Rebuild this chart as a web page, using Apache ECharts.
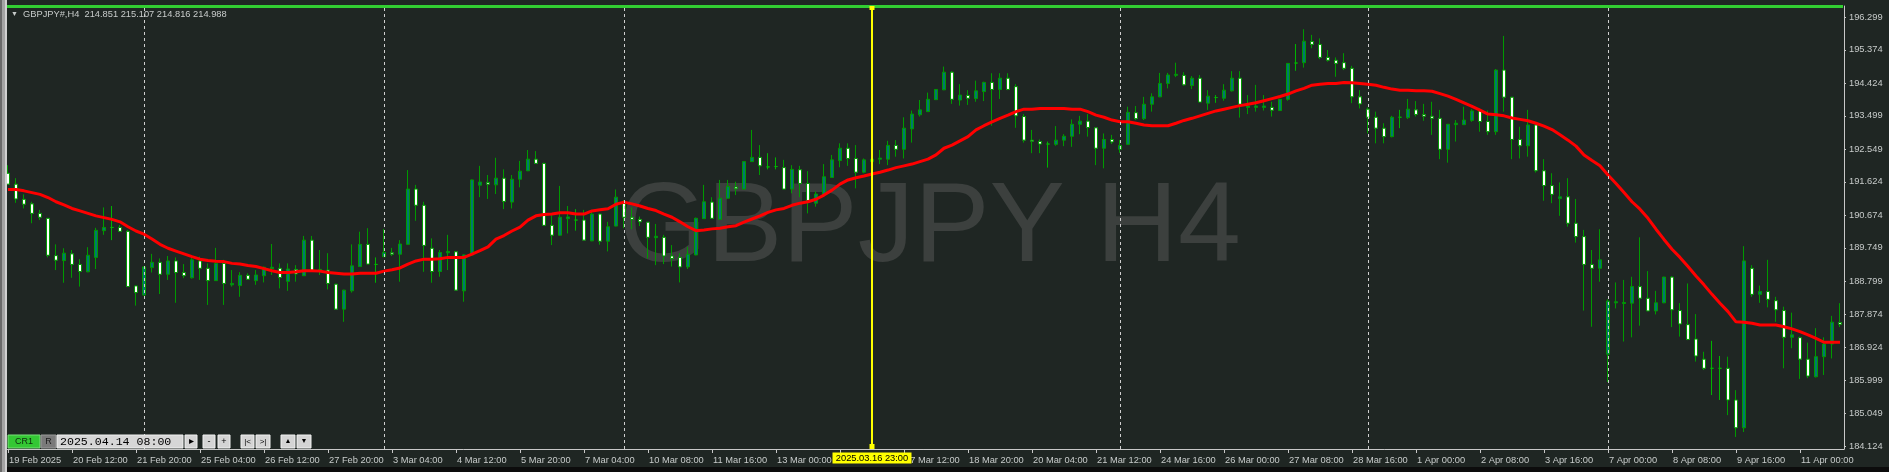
<!DOCTYPE html>
<html><head><meta charset="utf-8">
<script src="https://cdn.jsdelivr.net/npm/echarts@6/dist/echarts.min.js"></script>
<style>html,body{margin:0;padding:0;background:#1f2623;}#c{width:1889px;height:472px;}</style>
</head><body><div id="c"></div>
<script>
// ---------------- data ----------------
const xTickLabels = ['19 Feb 2025','20 Feb 12:00','21 Feb 20:00','25 Feb 04:00','26 Feb 12:00','27 Feb 20:00','3 Mar 04:00','4 Mar 12:00','5 Mar 20:00','7 Mar 04:00','10 Mar 08:00','11 Mar 16:00','13 Mar 00:00','14 Mar 08:00','17 Mar 12:00','18 Mar 20:00','20 Mar 04:00','21 Mar 12:00','24 Mar 16:00','26 Mar 00:00','27 Mar 08:00','28 Mar 16:00','1 Apr 00:00','2 Apr 08:00','3 Apr 16:00','7 Apr 00:00','8 Apr 08:00','9 Apr 16:00','11 Apr 00:00'];
const xTickEvery = 8;
const yTickLabels = ['196.299','195.374','194.424','193.499','192.549','191.624','190.674','189.749','188.799','187.874','186.924','185.999','185.049','184.124'];
const yMin = 184.038, yMax = 196.620;

const opens = [
191.87,191.56,191.13,191.00,190.73,190.59,189.53,189.39,189.58,189.28,
189.07,189.48,190.24,190.33,190.33,190.22,188.67,188.41,189.19,189.34,
189.00,189.38,189.05,188.90,189.38,189.17,188.82,189.31,188.70,188.68,
188.97,188.82,188.96,189.16,189.17,188.80,189.14,188.96,189.97,189.09,
189.12,188.72,188.01,188.53,189.22,189.85,189.28,189.50,189.61,189.57,
189.85,191.42,190.96,189.74,189.08,189.61,189.64,188.53,189.55,191.53,
191.61,191.54,191.73,191.05,191.70,191.94,192.27,192.15,190.39,190.11,
190.58,190.54,190.54,189.95,190.71,189.94,190.37,191.02,190.62,190.56,
190.48,190.04,190.05,189.52,189.48,189.21,189.55,190.58,191.05,190.56,
191.16,191.48,191.42,192.20,192.32,192.05,192.06,192.03,191.42,191.97,
191.58,191.02,191.27,191.75,192.23,192.58,192.29,191.90,192.20,192.27,
192.27,192.66,192.55,193.13,193.53,193.62,193.96,194.24,194.74,193.95,
194.08,193.99,194.19,194.45,194.25,194.57,194.33,193.48,192.81,192.77,
192.70,192.69,192.81,192.92,193.26,193.35,193.16,192.58,192.83,192.55,
192.69,193.59,193.42,193.83,194.04,194.42,194.65,194.65,194.36,194.57,
193.86,194.02,194.00,194.21,194.57,193.74,193.74,193.74,193.74,193.65,
193.97,195.00,195.01,195.61,195.53,195.16,195.08,195.01,194.85,194.04,
193.69,193.46,193.15,192.91,193.46,193.45,193.67,193.54,193.49,193.43,
192.55,193.25,193.25,193.37,193.64,193.34,193.05,194.80,194.03,192.83,
192.65,193.24,191.94,191.52,191.15,191.20,190.45,190.07,189.28,189.17,
186.73,188.19,188.17,188.18,188.65,188.32,187.96,188.19,188.92,187.97,
187.57,187.16,186.59,186.33,186.33,186.33,185.43,184.64,189.17,188.43,
188.51,188.25,187.97,187.21,187.20,186.59,186.09,186.66,187.02,187.63];
const closes = [
191.56,191.14,190.99,190.73,190.62,189.54,189.40,189.60,189.28,189.08,
189.54,190.25,190.33,190.33,190.22,188.65,188.48,189.21,189.34,189.00,
189.38,189.05,188.96,189.41,189.17,188.82,189.31,188.74,188.74,188.97,
188.86,188.98,189.20,189.20,188.91,189.15,189.01,189.97,189.10,189.14,
188.74,188.01,188.55,189.24,189.85,189.29,189.28,189.62,189.57,189.86,
191.42,190.96,189.82,189.08,189.62,189.65,188.55,189.55,191.68,191.62,
191.56,191.73,191.07,191.70,191.93,192.27,192.15,190.39,190.11,190.62,
190.63,190.54,189.97,190.71,189.94,190.35,191.19,190.62,190.56,190.49,
190.05,190.08,189.52,189.45,189.21,189.57,190.59,191.06,190.59,191.16,
191.49,191.43,192.20,192.32,192.08,192.05,192.06,191.42,191.98,191.58,
191.09,191.28,191.77,192.25,192.58,192.29,191.90,192.25,192.27,192.30,
192.66,192.55,193.15,193.55,193.67,193.97,194.25,194.74,193.97,194.09,
194.00,194.21,194.45,194.25,194.57,194.25,193.50,192.81,192.78,192.70,
192.70,192.81,192.92,193.26,193.35,193.17,192.58,192.83,192.76,192.66,
193.60,193.42,193.83,194.04,194.42,194.66,194.68,194.38,194.57,193.89,
194.06,194.02,194.23,194.57,193.83,193.78,193.78,193.78,193.66,193.97,
194.99,195.00,195.62,195.53,195.16,195.08,194.99,194.85,194.04,193.84,
193.46,193.15,192.91,193.46,193.46,193.69,193.54,193.49,193.43,192.55,
193.26,193.29,193.38,193.64,193.34,193.05,194.80,194.03,192.83,192.65,
193.24,191.94,191.52,191.27,191.20,190.45,190.07,189.28,189.17,189.41,
188.24,188.22,188.20,188.65,188.32,187.96,188.19,188.92,187.99,187.59,
187.15,186.68,186.33,186.33,186.33,185.43,184.64,189.38,188.43,188.51,
188.29,187.99,187.21,187.28,186.59,186.11,186.66,187.02,187.64,187.58];
const lows = [
191.54,191.03,190.87,190.45,190.54,189.48,189.12,188.76,188.90,188.65,
189.06,189.15,190.12,189.97,190.20,188.64,188.11,188.40,189.05,188.44,
188.84,188.19,188.89,188.88,188.84,188.13,188.81,188.13,188.65,188.36,
188.84,188.70,188.77,188.98,188.60,188.53,188.79,188.95,189.09,188.98,
188.57,188.00,187.65,188.48,189.21,189.28,188.76,189.49,189.52,188.79,
189.84,190.52,189.07,188.76,188.93,189.12,188.54,188.22,189.54,191.19,
191.14,191.28,190.85,190.87,191.47,191.93,192.14,190.38,189.83,190.10,
190.16,190.24,189.96,189.94,189.84,189.65,190.36,190.31,190.28,190.37,
189.45,189.26,189.29,189.22,188.77,189.15,189.54,190.57,190.58,190.55,
191.15,191.25,191.41,192.19,191.82,191.98,191.98,191.41,191.30,191.19,
190.73,190.92,191.25,191.74,192.04,192.08,191.44,191.87,192.13,192.13,
192.10,192.34,192.29,192.74,193.48,193.61,193.95,194.23,193.84,193.79,
193.81,193.90,193.92,193.22,193.98,194.23,193.16,192.74,192.44,192.44,
192.03,192.65,192.64,192.62,192.98,192.91,192.10,192.01,192.70,192.45,
192.68,193.38,193.38,193.62,194.03,194.28,194.60,194.36,194.26,193.88,
193.67,193.87,193.93,194.19,193.45,193.55,193.62,193.65,193.48,193.64,
193.93,194.78,194.87,195.42,195.11,195.04,194.61,194.80,193.86,193.71,
193.00,192.72,192.72,192.89,193.15,193.41,193.48,193.36,192.96,192.27,
192.17,192.77,193.24,193.33,193.05,192.96,192.96,193.62,192.27,192.29,
192.34,191.89,191.09,191.02,190.66,190.35,189.90,187.97,187.51,188.79,
185.94,188.03,187.09,187.21,187.54,187.95,187.86,188.18,187.50,187.23,
187.13,186.52,186.28,185.57,185.43,185.00,184.38,184.52,188.36,188.19,
188.06,187.65,186.33,186.90,186.03,186.05,186.07,186.14,186.61,187.50];
const highs = [
192.10,191.73,191.27,191.06,190.83,190.60,189.85,189.74,189.69,189.43,
189.77,190.32,190.90,190.94,190.40,190.26,188.68,189.22,189.58,189.45,
189.52,189.48,189.29,189.52,189.50,189.31,189.75,189.41,189.12,189.06,
189.03,189.12,189.22,189.86,189.31,189.31,189.26,190.09,190.09,189.69,
189.60,188.73,188.56,189.85,190.21,190.31,189.48,190.29,189.75,189.97,
191.96,191.54,191.06,190.02,189.69,190.12,189.66,189.56,191.69,192.08,
191.82,192.31,191.98,191.82,192.22,192.53,192.50,192.17,190.68,191.51,
190.94,190.85,190.83,190.81,190.73,190.49,191.41,191.11,190.90,190.64,
190.49,190.43,190.12,189.83,189.60,189.78,190.61,191.54,191.19,191.68,
191.68,191.63,192.21,193.10,192.67,192.44,192.32,192.25,192.10,192.08,
191.93,191.35,192.13,192.39,192.72,192.72,192.67,192.29,192.32,192.53,
192.79,192.81,193.46,193.65,193.95,194.16,194.26,194.90,194.77,194.40,
194.23,194.50,194.47,194.71,194.71,194.71,194.40,193.55,193.10,192.83,
192.77,193.21,192.98,193.40,193.50,193.55,193.18,193.00,192.96,192.81,
193.76,193.78,194.04,194.14,194.72,194.72,195.01,194.74,194.63,194.66,
194.23,194.09,194.40,194.77,194.77,194.09,194.38,194.09,193.90,193.98,
195.00,195.54,195.96,195.80,195.70,195.37,195.16,195.28,194.92,194.23,
193.74,193.62,193.29,193.50,193.67,193.98,193.92,193.84,193.90,193.67,
193.27,193.38,193.76,193.69,193.71,193.65,194.83,195.77,194.04,193.19,
193.67,193.25,192.27,191.87,191.61,191.73,191.14,190.26,189.69,190.28,
188.29,188.77,188.84,188.93,190.05,189.09,188.53,188.93,188.95,188.18,
188.74,187.87,186.80,187.11,186.68,186.66,185.71,189.80,189.26,188.68,
189.41,188.36,188.08,187.91,187.23,187.06,187.47,187.21,187.82,188.18];
const maValues = [
191.41,191.41,191.37,191.32,191.27,191.18,191.06,190.97,190.87,190.80,
190.73,190.66,190.61,190.56,190.49,190.35,190.23,190.14,190.00,189.85,
189.74,189.66,189.58,189.50,189.43,189.39,189.37,189.36,189.31,189.29,
189.25,189.22,189.16,189.10,189.05,189.05,189.07,189.10,189.10,189.09,
189.05,189.03,189.01,189.01,189.03,189.03,189.03,189.09,189.13,189.18,
189.29,189.38,189.43,189.43,189.44,189.48,189.48,189.48,189.57,189.67,
189.78,190.00,190.10,190.23,190.34,190.54,190.66,190.70,190.71,190.75,
190.75,190.71,190.71,190.80,190.83,190.86,190.99,191.05,191.00,190.94,
190.87,190.81,190.71,190.62,190.49,190.35,190.24,190.26,190.29,190.31,
190.35,190.38,190.48,190.57,190.66,190.76,190.83,190.87,190.96,191.02,
191.06,191.13,191.25,191.39,191.56,191.68,191.74,191.79,191.85,191.90,
191.96,192.03,192.08,192.13,192.20,192.27,192.39,192.58,192.67,192.79,
192.91,193.10,193.22,193.33,193.43,193.52,193.62,193.69,193.69,193.71,
193.71,193.71,193.71,193.69,193.69,193.62,193.52,193.46,193.38,193.33,
193.33,193.29,193.24,193.22,193.22,193.22,193.29,193.37,193.43,193.50,
193.57,193.64,193.69,193.74,193.79,193.83,193.87,193.93,193.99,194.05,
194.12,194.21,194.28,194.37,194.40,194.42,194.42,194.45,194.44,194.42,
194.40,194.37,194.31,194.26,194.23,194.23,194.21,194.21,194.20,194.13,
194.06,193.97,193.87,193.77,193.66,193.55,193.53,193.50,193.44,193.40,
193.36,193.29,193.21,193.11,192.96,192.81,192.64,192.39,192.23,192.08,
191.82,191.58,191.32,191.06,190.85,190.59,190.28,189.99,189.71,189.48,
189.22,188.95,188.70,188.43,188.18,187.94,187.65,187.64,187.61,187.56,
187.56,187.56,187.51,187.45,187.37,187.28,187.18,187.07,187.07,187.07];
const separatorBars = [17, 47, 77, 108, 139, 170, 200];
const crosshairBar = 108;
const crosshairText = '2025.03.16 23:00';
const titleText = 'GBPJPY#,H4  214.851 215.107 214.816 214.988';
const watermarkText = 'GBPJPY H4';
const scrollDateText = '2025.04.14 08:00';

// ---------------- build ----------------
const categories = opens.map((_, i) => String(i));
const candleData = opens.map((o, i) => [o, closes[i], lows[i], highs[i]]);
const yTickValues = yTickLabels.map(Number);

const FONT = '"Liberation Sans", Arial, sans-serif';
const TXT = '#c8cccb';
const AXIS = '#c8c8c8';

const chart = echarts.init(document.getElementById('c'));
chart.setOption({
  animation: false,
  backgroundColor: '#1f2623',
  grid: { left: 4, right: 45, top: 6, bottom: 23, containLabel: false },
  xAxis: {
    type: 'category', data: categories, boundaryGap: true,
    axisLine: { show: true, lineStyle: { color: AXIS, width: 1 } },
    axisTick: { show: true, alignWithLabel: true, length: 4, interval: (i) => i % xTickEvery === 0, lineStyle: { color: AXIS } },
    axisLabel: {
      show: true, interval: (i) => i % xTickEvery === 0,
      formatter: (v, i) => xTickLabels[i / xTickEvery] || '',
      align: 'left', margin: 6.5, color: TXT, fontSize: 9.3, fontFamily: FONT, padding: [0, 0, 0, 1]
    },
    splitLine: { show: false }
  },
  yAxis: {
    type: 'value', position: 'right', min: yMin, max: yMax,
    axisLine: { show: true, lineStyle: { color: AXIS, width: 1 } },
    axisTick: { show: true, length: 2, customValues: yTickValues, lineStyle: { color: AXIS } },
    axisLabel: {
      show: true, customValues: yTickValues, margin: 5,
      formatter: (v) => { const k = yTickValues.indexOf(v); return k >= 0 ? yTickLabels[k] : v.toFixed(3); },
      color: TXT, fontSize: 9.3, fontFamily: FONT
    },
    splitLine: { show: false }
  },
  series: [
    {
      name: 'separators', type: 'line', data: [], z: 1, silent: true,
      markLine: {
        silent: true, symbol: ['none', 'none'], animation: false,
        label: { show: false },
        lineStyle: { color: '#cfcfcf', width: 1, type: [3, 3] },
        data: separatorBars.map(b => ({ xAxis: b }))
      }
    },
    {
      name: 'GBPJPY', type: 'candlestick', data: candleData, barWidth: 4, z: 2,
      itemStyle: {
        color: '#00786f', color0: '#ffffff',
        borderColor: '#009a00', borderColor0: '#009a00', borderColorDoji: '#00b400', borderWidth: 1
      }
    },
    {
      name: 'MA', type: 'line', data: maValues, symbol: 'none', z: 3, silent: true,
      lineStyle: { color: '#ff0000', width: 3 }
    }
  ]
});

const cx = chart.convertToPixel({ xAxisIndex: 0 }, crosshairBar);
const yTop = chart.convertToPixel({ yAxisIndex: 0 }, yMax);
const yBot = chart.convertToPixel({ yAxisIndex: 0 }, yMin);

function btn(x, w, label, fs) {
  return [
    { type: 'rect', z: 100, shape: { x: x, y: 435, width: w, height: 13 }, style: { fill: '#d4d4d4', stroke: '#f0f0f0', lineWidth: 1 } },
    { type: 'text', z: 101, x: x + w / 2, y: 441.5, style: { text: label, fill: '#000', font: (fs || 9) + 'px ' + FONT, align: 'center', verticalAlign: 'middle' } }
  ];
}

chart.setOption({
  graphic: [
    // watermark behind everything
    { type: 'text', z: 0, x: 619, y: 230, silent: true,
      style: { text: watermarkText, fill: '#3c403e', font: '113px ' + FONT, align: 'left', verticalAlign: 'middle' } },
    // left frame
    { type: 'rect', z: 100, shape: { x: 0, y: 0, width: 2, height: 472 }, style: { fill: '#6a6a6a' } },
    { type: 'rect', z: 100, shape: { x: 2, y: 0, width: 3, height: 472 }, style: { fill: '#a3a3a3' } },
    { type: 'rect', z: 100, shape: { x: 5, y: 0, width: 2, height: 472 }, style: { fill: '#d0d0d0' } },
    // bottom dark strip
    { type: 'rect', z: 100, shape: { x: 7, y: 467, width: 1882, height: 5 }, style: { fill: '#0c0c0c' } },
    // top green bar
    { type: 'rect', z: 100, shape: { x: 7, y: 5, width: 1836, height: 3 }, style: { fill: '#32cd32' } },
    // title
    { type: 'text', z: 100, x: 11, y: 14, style: { text: '▼', fill: TXT, font: '7px ' + FONT, verticalAlign: 'middle' } },
    { type: 'text', z: 100, x: 23, y: 14, style: { text: titleText, fill: TXT, font: '9.3px ' + FONT, verticalAlign: 'middle' } },
    // crosshair
    { type: 'rect', z: 110, shape: { x: cx - 1, y: yTop, width: 2, height: yBot - yTop }, style: { fill: '#ffff00' } },
    { type: 'rect', z: 110, shape: { x: cx - 2.5, y: yTop, width: 5, height: 4 }, style: { fill: '#ffff00' } },
    { type: 'rect', z: 110, shape: { x: cx - 2.5, y: yBot - 5, width: 5, height: 5 }, style: { fill: '#ffff00' } },
    { type: 'rect', z: 110, shape: { x: cx - 39.5, y: 452.5, width: 79, height: 11 }, style: { fill: '#ffff00' } },
    { type: 'text', z: 111, x: cx, y: 458, style: { text: crosshairText, fill: '#000', font: '9.3px ' + FONT, align: 'center', verticalAlign: 'middle' } },
    // bottom-left toolbar
    { type: 'rect', z: 100, shape: { x: 8, y: 435, width: 32, height: 13 }, style: { fill: '#34c734', stroke: '#7be07b', lineWidth: 1 } },
    { type: 'text', z: 101, x: 24, y: 441.5, style: { text: 'CR1', fill: '#0d2a0d', font: '9px ' + FONT, align: 'center', verticalAlign: 'middle' } },
    { type: 'rect', z: 100, shape: { x: 41, y: 435, width: 15, height: 13 }, style: { fill: '#7a7a7a', stroke: '#9a9a9a', lineWidth: 1 } },
    { type: 'text', z: 101, x: 48.5, y: 441.5, style: { text: 'R', fill: '#1a1a1a', font: '9px ' + FONT, align: 'center', verticalAlign: 'middle' } },
    { type: 'rect', z: 100, shape: { x: 57, y: 435, width: 126, height: 13 }, style: { fill: '#d6d6d6', stroke: '#f0f0f0', lineWidth: 1 } },
    { type: 'text', z: 101, x: 60, y: 441.5, style: { text: scrollDateText, fill: '#000', font: '11.6px "Liberation Mono", monospace', align: 'left', verticalAlign: 'middle' } },
    ...btn(185, 12, '▸', 10), ...btn(203, 12, '-'), ...btn(218, 12, '+'),
    ...btn(241, 13, '|<', 8), ...btn(256, 14, '>|', 8),
    ...btn(281, 14, '▲', 7), ...btn(297, 14, '▼', 7)
  ]
});
</script>
</body></html>
